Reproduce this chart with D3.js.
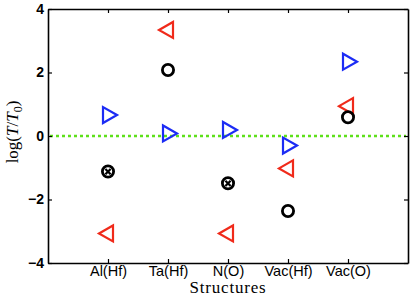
<!DOCTYPE html>
<html>
<head>
<meta charset="utf-8">
<script src="https://cdn.jsdelivr.net/npm/d3@7"></script>
<style>
  body { margin: 0; background: #fff; }
  svg { display: block; }
</style>
</head>
<body>
<div id="chart"></div>
<script>
// categories along x
const structures = ['Al(Hf)', 'Ta(Hf)', 'N(O)', 'Vac(Hf)', 'Vac(O)'];
// log(T/T0) values
const blueValues = [0.66, 0.08, 0.19, -0.30, 2.34];
const redValues = [-3.07, 3.34, -3.07, -1.02, 0.94];
const blackValues = [-1.12, 2.08, -1.49, -2.36, 0.59];
const blackCrossed = [true, false, true, false, false];
const yTicks = [-4, -2, 0, 2, 4];

const width = 416, height = 298;
const margin = {top: 9, right: 8, bottom: 35, left: 48};

const svg = d3.select('#chart')
    .append('svg')
    .attr('width', width)
    .attr('height', height);

const x = d3.scaleLinear()
    .domain([0, structures.length + 1])
    .range([margin.left, width - margin.right]);

const y = d3.scaleLinear()
    .domain([-4, 4])
    .range([height - margin.bottom, margin.top]);

const tickFont = 'Liberation Sans, Arial, sans-serif';

// zero reference line
svg.append('line')
    .attr('x1', x(0) + 2)
    .attr('x2', x(6) - 2)
    .attr('y1', y(0))
    .attr('y2', y(0))
    .attr('stroke', '#5ee01a')
    .attr('stroke-width', 2.5)
    .attr('stroke-dasharray', '3,3');

// axes (ticks pointing inward, mirrored on top/right)
const xTickVals = structures.map((d, i) => i + 1);

const xAxis = svg.append('g')
    .attr('transform', `translate(0,${y(-4)})`)
    .call(d3.axisBottom(x).tickValues(xTickVals)
        .tickFormat((d) => structures[d - 1])
        .tickSizeInner(-4).tickSizeOuter(0).tickPadding(3));

const xAxisTop = svg.append('g')
    .attr('transform', `translate(0,${y(4)})`)
    .call(d3.axisTop(x).tickValues(xTickVals)
        .tickFormat('').tickSizeInner(-4).tickSizeOuter(0));

const yAxis = svg.append('g')
    .attr('transform', `translate(${x(0)},0)`)
    .call(d3.axisLeft(y).tickValues(yTicks)
        .tickFormat((d) => d < 0 ? '\u2212' + Math.abs(d) : d)
        .tickSizeInner(-4).tickSizeOuter(0).tickPadding(4));

const yAxisRight = svg.append('g')
    .attr('transform', `translate(${x(6)},0)`)
    .call(d3.axisRight(y).tickValues(yTicks)
        .tickFormat('').tickSizeInner(-4).tickSizeOuter(0));

[xAxis, xAxisTop, yAxis, yAxisRight].forEach((g) => {
  g.select('.domain').attr('stroke', '#000').attr('stroke-width', 1.6);
  g.selectAll('.tick line').attr('stroke', '#000').attr('stroke-width', 1.2);
  g.selectAll('text')
      .attr('fill', '#000')
      .style('font-family', tickFont)
      .style('font-size', '14.5px');
});
yAxis.selectAll('text').style('font-weight', 'bold').style('font-size', '14px');

// markers
const triSize = 8;
function triangle(dir) {
  // triangle pointing right (dir=1) or left (dir=-1)
  const s = triSize;
  return `M${dir * s},0 L${-dir * s * 0.75},${-s} L${-dir * s * 0.75},${s} Z`;
}

const blue = svg.append('g').selectAll('path')
    .data(blueValues)
    .join('path')
    .attr('d', triangle(1))
    .attr('transform', (d, i) => `translate(${x(i + 1) + 1},${y(d)})`)
    .attr('fill', 'none')
    .attr('stroke', '#1c2cf5')
    .attr('stroke-width', 2.2)
    .attr('stroke-linejoin', 'miter');

const red = svg.append('g').selectAll('path')
    .data(redValues)
    .join('path')
    .attr('d', triangle(-1))
    .attr('transform', (d, i) => `translate(${x(i + 1) - 1},${y(d)})`)
    .attr('fill', 'none')
    .attr('stroke', '#f02a1a')
    .attr('stroke-width', 2.2)
    .attr('stroke-linejoin', 'miter');

const black = svg.append('g').selectAll('g')
    .data(blackValues)
    .join('g')
    .attr('transform', (d, i) => `translate(${x(i + 1)},${y(d)})`);

black.append('circle')
    .attr('r', 5.6)
    .attr('fill', 'none')
    .attr('stroke', '#000')
    .attr('stroke-width', 2.8);

black.filter((d, i) => blackCrossed[i])
    .append('path')
    .attr('d', 'M-2.6,-2.6 L2.6,2.6 M-2.6,2.6 L2.6,-2.6')
    .attr('stroke', '#000')
    .attr('stroke-width', 2.2);

// axis labels
svg.append('text')
    .attr('x', (x(0) + x(6)) / 2)
    .attr('y', 293)
    .attr('text-anchor', 'middle')
    .style('font-family', 'Liberation Serif, DejaVu Serif, serif')
    .style('font-size', '17px')
    .style('letter-spacing', '0.8px')
    .text('Structures');

const yl = svg.append('text')
    .attr('transform', `translate(18,${y(0) - 4}) rotate(-90)`)
    .attr('text-anchor', 'middle')
    .style('font-family', 'Liberation Serif, DejaVu Serif, serif')
    .style('font-size', '17px');
yl.append('tspan').text('log(');
yl.append('tspan').style('font-style', 'italic').text('T');
yl.append('tspan').text('/');
yl.append('tspan').style('font-style', 'italic').text('T');
yl.append('tspan').attr('font-size', '12px').attr('dy', 4).text('0');
yl.append('tspan').attr('dy', -4).text(')');
</script>
</body>
</html>
